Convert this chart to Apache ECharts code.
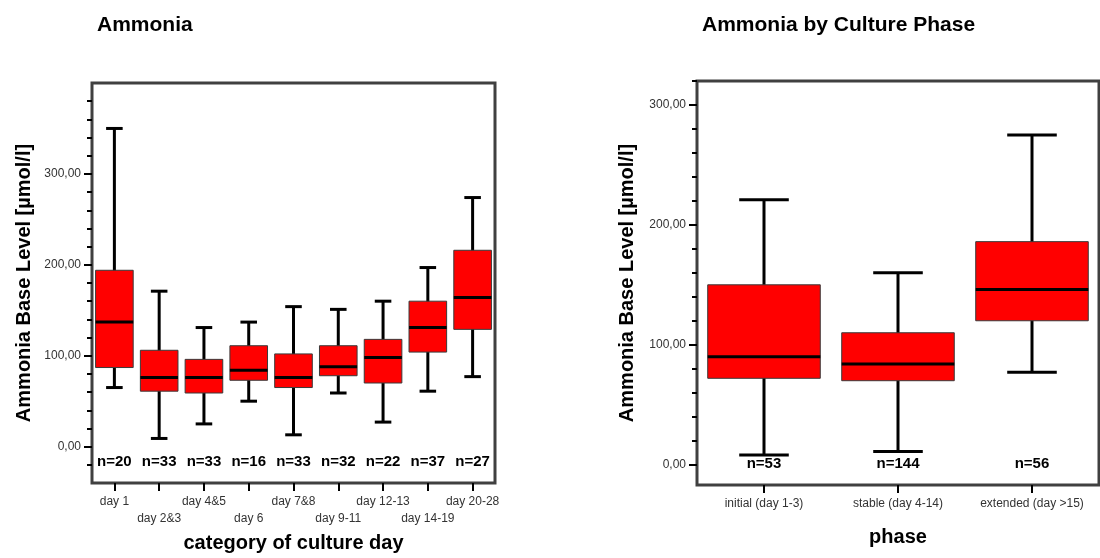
<!DOCTYPE html>
<html>
<head>
<meta charset="utf-8">
<script src="https://cdn.jsdelivr.net/npm/echarts@6/dist/echarts.min.js"></script>
<style>
  html, body { margin: 0; padding: 0; background: #fff; }
  #chart { width: 1100px; height: 558px; }
</style>
</head>
<body>
<div id="chart"></div>
<script>
// left panel: ammonia by culture day category
var dayCategories = ['day 1', 'day 2&3', 'day 4&5', 'day 6', 'day 7&8', 'day 9-11', 'day 12-13', 'day 14-19', 'day 20-28'];
var dayLow    = [65, 9, 25, 50, 13, 59, 27, 61, 77];
var dayQ1     = [87, 61, 59, 73, 65, 78, 70, 104, 129];
var dayMedian = [137, 76, 76, 84, 76, 88, 98, 131, 164];
var dayQ3     = [194, 106, 96, 111, 102, 111, 118, 160, 216];
var dayHigh   = [350, 171, 131, 137, 154, 151, 160, 197, 274];
var dayN      = [20, 33, 33, 16, 33, 32, 22, 37, 27];

// right panel: ammonia by culture phase
var phaseCategories = ['initial (day 1-3)', 'stable (day 4-14)', 'extended (day >15)'];
var phaseLow    = [8, 11, 77];
var phaseQ1     = [72, 70, 120];
var phaseMedian = [90, 84, 146];
var phaseQ3     = [150, 110, 186];
var phaseHigh   = [221, 160, 275];
var phaseN      = [53, 144, 56];

// tick values
var majorTicks = [0, 100, 200, 300];
var dayMinorTicks = [-20, 20, 40, 60, 80, 120, 140, 160, 180, 220, 240, 260, 280, 320, 340, 360, 380];
var phaseMinorTicks = [20, 40, 60, 80, 120, 140, 160, 180, 220, 240, 260, 280, 320];

var FONT = '"Liberation Sans", Arial, sans-serif';

function buildRows(low, q1, med, q3, high, n) {
    var rows = [];
    for (var i = 0; i < low.length; i++) {
        rows.push([i, low[i], q1[i], med[i], q3[i], high[i], n[i]]);
    }
    return rows;
}

function renderBox(params, api) {
    var idx = api.value(0);
    var cx = api.coord([idx, 0])[0];
    var band = api.size([1, 0])[0];
    var boxW = band * 0.84;
    var capW = band * 0.37;
    var yLow = api.coord([idx, api.value(1)])[1];
    var yQ1 = api.coord([idx, api.value(2)])[1];
    var yMed = api.coord([idx, api.value(3)])[1];
    var yQ3 = api.coord([idx, api.value(4)])[1];
    var yHigh = api.coord([idx, api.value(5)])[1];
    var cs = params.coordSys;
    var ink = { stroke: '#000', lineWidth: 3 };
    return {
        type: 'group',
        children: [
            { type: 'line', shape: { x1: cx, y1: yHigh, x2: cx, y2: yLow }, style: ink },
            { type: 'line', shape: { x1: cx - capW / 2, y1: yHigh, x2: cx + capW / 2, y2: yHigh }, style: ink },
            { type: 'line', shape: { x1: cx - capW / 2, y1: yLow, x2: cx + capW / 2, y2: yLow }, style: ink },
            { type: 'rect', shape: { x: cx - boxW / 2, y: yQ3, width: boxW, height: yQ1 - yQ3 },
              style: { fill: '#ff0000', stroke: '#3a3a3a', lineWidth: 1 } },
            { type: 'line', shape: { x1: cx - boxW / 2, y1: yMed, x2: cx + boxW / 2, y2: yMed }, style: ink },
            { type: 'text', x: cx, y: cs.y + cs.height - 21,
              style: { text: 'n=' + api.value(6), fill: '#000', font: 'bold 15px ' + FONT,
                       align: 'center', verticalAlign: 'middle' } }
        ]
    };
}

function valueAxis(gridIndex, min, max, ticks, len, labels, name, nameGap) {
    return {
        type: 'value',
        gridIndex: gridIndex,
        min: min,
        max: max,
        position: 'left',
        name: name || '',
        nameLocation: 'middle',
        nameGap: nameGap || 0,
        nameTextStyle: { fontFamily: FONT, fontSize: 20, fontWeight: 'bold', color: '#000' },
        axisLine: { show: false, onZero: false },
        splitLine: { show: false },
        axisTick: { show: true, inside: false, length: len, customValues: ticks,
                    lineStyle: { color: '#000', width: 2 } },
        axisLabel: labels ? {
            show: true, customValues: labels, margin: 11,
            fontFamily: FONT, fontSize: 12, color: '#333',
            formatter: function (v) { return v.toFixed(2).replace('.', ','); }
        } : { show: false }
    };
}

function categoryAxis(gridIndex, cats, name, nameGap, stagger) {
    return {
        type: 'category',
        gridIndex: gridIndex,
        data: cats,
        boundaryGap: true,
        position: 'bottom',
        name: name,
        nameLocation: 'middle',
        nameGap: nameGap,
        nameTextStyle: { fontFamily: FONT, fontSize: 20, fontWeight: 'bold', color: '#000' },
        axisLine: { show: false, onZero: false },
        axisTick: { show: true, alignWithLabel: true, length: 8, lineStyle: { color: '#000', width: 2 } },
        axisLabel: {
            interval: 0, margin: 10, fontFamily: FONT, fontSize: 12, color: '#333', lineHeight: 17,
            hideOverlap: false,
            formatter: function (v, i) { return stagger && i % 2 ? '\n' + v : v; }
        }
    };
}

var myChart = echarts.init(document.getElementById('chart'), null, { renderer: 'canvas' });

var option = {
    animation: false,
    backgroundColor: '#fff',
    title: [
        { text: 'Ammonia', left: 92, top: 10,
          textStyle: { fontFamily: FONT, fontSize: 21, fontWeight: 'bold', color: '#000' } },
        { text: 'Ammonia by Culture Phase', left: 697, top: 10,
          textStyle: { fontFamily: FONT, fontSize: 21, fontWeight: 'bold', color: '#000' } }
    ],
    grid: [
        { left: 92, top: 83, width: 403, height: 404, show: true, borderColor: '#404040', borderWidth: 3, backgroundColor: '#fff' },
        { left: 697, top: 81, width: 402, height: 404, show: true, borderColor: '#404040', borderWidth: 3, backgroundColor: '#fff' }
    ],
    xAxis: [
        categoryAxis(0, dayCategories, 'category of culture day', 50, true),
        categoryAxis(1, phaseCategories, 'phase', 42, false)
    ],
    yAxis: [
        valueAxis(0, -40, 400, majorTicks, 8, majorTicks, 'Ammonia Base Level [µmol/l]', 58),
        valueAxis(0, -40, 400, dayMinorTicks, 5, null),
        valueAxis(1, -17, 320, majorTicks, 8, majorTicks, 'Ammonia Base Level [µmol/l]', 60),
        valueAxis(1, -17, 320, phaseMinorTicks, 5, null)
    ],
    series: [
        {
            type: 'custom',
            xAxisIndex: 0,
            yAxisIndex: 0,
            renderItem: renderBox,
            encode: { x: 0, y: [1, 2, 3, 4, 5] },
            data: buildRows(dayLow, dayQ1, dayMedian, dayQ3, dayHigh, dayN)
        },
        {
            type: 'custom',
            xAxisIndex: 1,
            yAxisIndex: 2,
            renderItem: renderBox,
            encode: { x: 0, y: [1, 2, 3, 4, 5] },
            data: buildRows(phaseLow, phaseQ1, phaseMedian, phaseQ3, phaseHigh, phaseN)
        }
    ]
};

myChart.setOption(option);
</script>
</body>
</html>
